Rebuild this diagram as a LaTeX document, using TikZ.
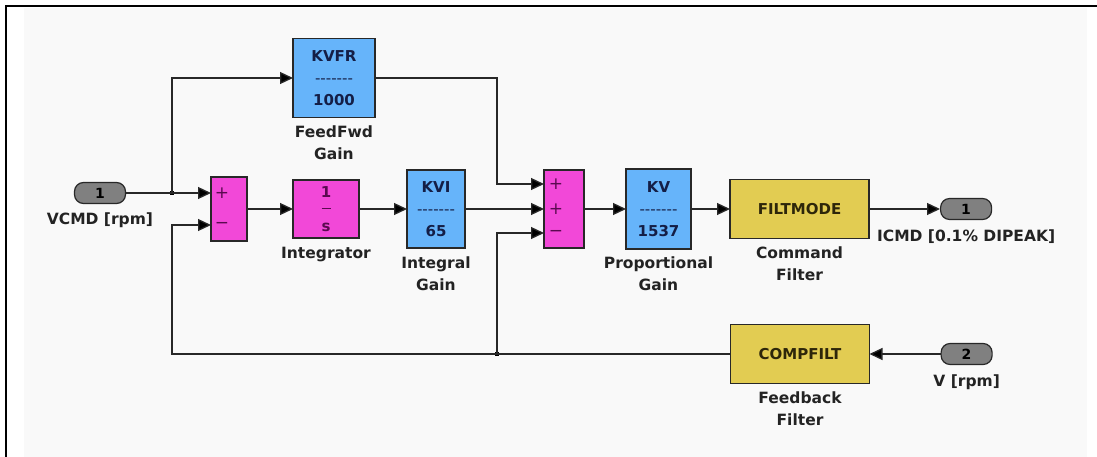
\documentclass[tikz,border=0pt]{standalone}
\usepackage{fontspec}
\setmainfont{DejaVu Sans}
\usepackage{tikz}
\usetikzlibrary{arrows.meta,positioning,calc}

\definecolor{gainblue}{RGB}{102,180,250}
\definecolor{gaintext}{RGB}{20,30,70}
\definecolor{summag}{RGB}{242,72,216}
\definecolor{sumtext}{RGB}{90,10,80}
\definecolor{filtyel}{RGB}{226,204,82}
\definecolor{filttext}{RGB}{45,38,10}
\definecolor{portgray}{RGB}{128,128,128}
\definecolor{wirecol}{RGB}{40,40,40}
\definecolor{lbltext}{RGB}{35,35,35}
\definecolor{bggray}{RGB}{249,249,249}

\newcommand{\gaindash}{{\mdseries -{}-{}-{}-{}-{}-{}-}}

\begin{document}
\begin{tikzpicture}[x=1pt,y=-1pt,
  blk/.style={
    draw=wirecol, line width=1.2pt, inner sep=0pt, outer sep=0pt,
    align=center, font=\fontsize{15}{22}\selectfont\bfseries
  },
  gain/.style={blk, fill=gainblue, text=gaintext, minimum width=58pt, minimum height=78pt},
  sumblk/.style={blk, fill=summag, minimum width=36pt, minimum height=64pt},
  intblk/.style={blk, fill=summag, text=sumtext, minimum width=66pt, minimum height=58pt},
  filtblk/.style={blk, fill=filtyel, text=filttext, minimum width=139pt, minimum height=59pt},
  port/.style={
    draw=wirecol, line width=1.2pt, fill=portgray, rounded corners=9pt,
    minimum width=51pt, minimum height=21pt, inner sep=0pt,
    font=\fontsize{14}{16}\selectfont\bfseries
  },
  lbl/.style={inner sep=0pt, align=center, text=lbltext, font=\fontsize{15.5}{22}\selectfont\bfseries},
  sgn/.style={inner sep=0pt, text=sumtext, font=\fontsize{17}{18}\selectfont},
  wire/.style={line width=1.3pt, draw=wirecol, -{Triangle[length=13pt,width=12pt,fill=black]}},
  dot/.style={fill=black, inner sep=0pt, minimum size=4.5pt},
]
\useasboundingbox (0,0) rectangle (1097,457);
\fill[bggray] (24,8) rectangle (1087,457);
\draw[line width=2.5pt] (6,457) -- (6,6) -- (1097,6);

% forward path
\node[port] (vcmd) at (100,193) {1};
\node[sumblk] (sum1) at (229,209) {};
\node[intblk, right=46pt of sum1] (integ) {1\\[-6pt]\rule[4pt]{9pt}{1pt}\\[-4pt]s};
\node[gain, right=48pt of integ] (kvi) {KVI\\\gaindash\\65};
\node[sumblk, minimum width=40pt, minimum height=78pt, right=79pt of kvi] (sum2) {};
\node[gain, minimum width=65pt, minimum height=80pt, right=42pt of sum2] (kv) {KV\\\gaindash\\1537};
\node[filtblk, right=39pt of kv] (filt) {FILTMODE};
\node[port, right=71pt of filt] (icmd) {1};
\node[gain, minimum width=82pt, minimum height=79pt] (kvfr) at (334,78) {KVFR\\\gaindash\\1000};

% feedback path
\node[filtblk] (comp) at (800,354) {COMPFILT};
\node[port, right=71pt of comp] (vfb) {2};

% block names
\node[lbl, below=8pt of vcmd] (vcmdlbl) {VCMD [rpm]};
\node[lbl, below=8pt of kvfr] (kvfrlbl) {FeedFwd\\Gain};
\node[lbl, below=9pt of integ] (integlbl) {Integrator};
\node[lbl, below=9pt of kvi] (kvilbl) {Integral\\Gain};
\node[lbl, below=8pt of kv] (kvlbl) {Proportional\\Gain};
\node[lbl, below=8pt of filt] (filtlbl) {Command\\Filter};
\node[lbl, below=9pt of icmd] (icmdlbl) {ICMD [0.1\% DIPEAK]};
\node[lbl, below=8pt of comp] (complbl) {Feedback\\Filter};
\node[lbl, below=9pt of vfb] (vfblbl) {V [rpm]};

% sum inputs and signs
\coordinate (s1p) at ([yshift=16pt]sum1.west);
\coordinate (s1m) at ([yshift=-16pt]sum1.west);
\coordinate (s2a) at ([yshift=25pt]sum2.west);
\coordinate (s2b) at (sum2.west);
\coordinate (s2c) at ([yshift=-24pt]sum2.west);
\node[sgn] (s1ps) at ([xshift=11pt]s1p) {+};
\node[sgn] (s1ms) at ([xshift=11pt]s1m) {−};
\node[sgn] (s2as) at ([xshift=12pt]s2a) {+};
\node[sgn] (s2bs) at ([xshift=12pt]s2b) {+};
\node[sgn] (s2cs) at ([xshift=12pt]s2c) {−};

% junctions
\coordinate (fork1) at (172,193);
\coordinate (ffbend) at (497,78);
\coordinate (fbcorner) at (172,354);
\coordinate (fork2) at (497,354);
\node[dot] (fork1dot) at (fork1) {};
\node[dot] (fork2dot) at (fork2) {};

\draw[wire] (vcmd.east) -- (s1p);
\draw[wire] (fork1) |- (kvfr.west);
\draw[wire] (sum1) -- (integ);
\draw[wire] (integ) -- (kvi);
\draw[wire] (kvi.east) -- (s2b);
\draw[wire] (kvfr.east) -- (ffbend) |- (s2a);
\draw[wire] (sum2) -- (kv);
\draw[wire] (kv) -- (filt);
\draw[wire] (filt) -- (icmd);
\draw[wire] (vfb) -- (comp);
\draw[wire] (comp.west) -- (fbcorner) |- (s1m);
\draw[wire] (fork2) |- (s2c);
\end{tikzpicture}
\end{document}
